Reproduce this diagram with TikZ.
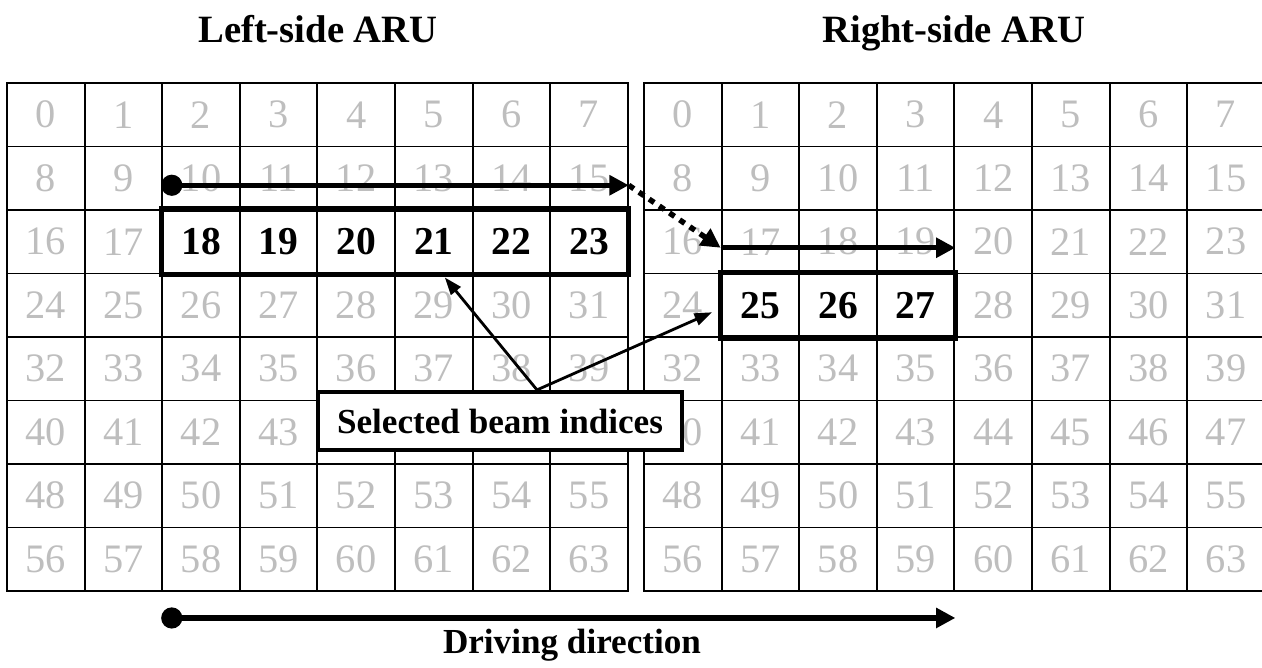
\documentclass[tikz,border=0pt]{standalone}
\usepackage{fontspec}
\setmainfont{Liberation Serif}
\usetikzlibrary{arrows.meta,positioning}
\definecolor{idxgray}{RGB}{190,190,190}
\tikzset{
  cell/.style={draw, line width=1.1pt, minimum width=1.552cm, minimum height=1.27cm,
    inner sep=0pt, text=idxgray, font=\fontsize{23}{27}\selectfont},
  selcell/.style={cell, text=black, font=\fontsize{22.5}{27}\selectfont\bfseries},
  selbox/.style={line width=2.9pt},
  beam/.style={line width=3.1pt, {Circle[length=12pt]}-{Triangle[length=11pt,width=11pt]}},
  hop/.style={line width=3.1pt, dash pattern=on 3.5pt off 3.5pt, -{Triangle[length=11pt,width=11pt]}},
  pointer/.style={line width=1.6pt, -{Triangle[length=10pt,width=7pt]}},
  title/.style={anchor=base, font=\fontsize{22}{26}\selectfont\bfseries}
}

\begin{document}
\begin{tikzpicture}[x=0.02cm, y=-0.02cm]
\useasboundingbox (0,0) rectangle (1262,667);

% the two 8x8 beam grids
\foreach \r in {0,...,7}
  \foreach \c in {0,...,7} {
    \pgfmathtruncatemacro\n{8*\r+\c}
    \def\ls{cell}\def\rs{cell}
    \ifnum\r=2 \ifnum\c>1 \def\ls{selcell}\fi\fi
    \ifnum\r=3 \ifnum\c>0 \ifnum\c<4 \def\rs{selcell}\fi\fi\fi
    \node[\ls] (L\n) at (45.8+77.6*\c, 114.75+63.5*\r) {\n};
    \node[\rs] (R\n) at (682.8+77.6*\c, 114.75+63.5*\r) {\n};
  }

\node[title] (ltitle) at (318,42) {Left-side ARU};
\node[title] (rtitle) at (954,42) {Right-side ARU};

% selected beams
\draw[selbox] (L18.north west) rectangle (L23.south east);
\draw[selbox] (R25.north west) rectangle (R27.south east);

% beam sweep
\coordinate (b0) at ([yshift=-0.14cm]L10.west);
\coordinate (b1) at ([yshift=-0.14cm]L15.east);
\coordinate (b2) at ([yshift=-0.12cm]R17.west);
\coordinate (b3) at ([yshift=-0.12cm]R19.east);
\draw[beam] (b0) -- (b1);
\draw[hop] (b1) -- (b2);
\draw[line width=3.1pt, -{Triangle[length=11pt,width=11pt]}] (b2) -- (b3);

% callout
\node[draw, line width=2.4pt, fill=white, minimum width=7.28cm, minimum height=1.16cm,
  font=\fontsize{20}{24}\selectfont\bfseries] (sel) at (500,421) {Selected beam indices};
\coordinate (s0) at ([xshift=0.74cm]sel.north);
\draw[pointer] (s0) -- ([xshift=0.22cm,yshift=-0.06cm]L21.south);
\draw[pointer] (s0) -- ([xshift=-0.17cm,yshift=-0.14cm]R25.west);

% driving direction
\coordinate (d0) at ([yshift=-0.52cm]L58.south west);
\coordinate (d1) at ([yshift=-0.52cm]R59.south east);
\draw[beam] (d0) -- (d1);
\node[title, font=\fontsize{20}{24}\selectfont\bfseries] (drive) at (572,653) {Driving direction};
\end{tikzpicture}
\end{document}
